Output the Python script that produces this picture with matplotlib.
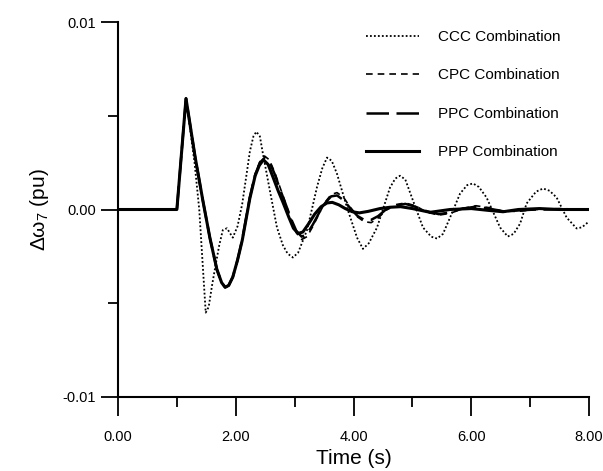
import numpy as np
import matplotlib
matplotlib.use("Agg")
import matplotlib.pyplot as plt
from matplotlib.ticker import MultipleLocator, FixedLocator

plt.rcParams['font.family'] = ['Liberation Sans', 'DejaVu Sans']
plt.rcParams['mathtext.fontset'] = 'custom'
plt.rcParams['mathtext.rm'] = 'Liberation Sans'

# PPP combination (solid)
t_ppp = [0, 1.00, 1.155, 1.31, 1.44, 1.56, 1.68, 1.76, 1.82, 1.88, 1.95, 2.03, 2.11, 2.24,
         2.33, 2.40, 2.47, 2.55, 2.63, 2.72, 2.80, 2.90, 2.98, 3.06, 3.14, 3.24, 3.34, 3.45,
         3.55, 3.64, 3.75, 3.86, 3.98, 4.10, 4.25, 4.45, 4.62, 4.80, 5.00, 5.30, 5.64, 6.00,
         6.30, 6.54, 6.80, 7.16, 7.50, 8.00]
y_ppp = [0, 0, 5.92, 2.8, 0.5, -1.5, -3.2, -3.9, -4.15, -4.05, -3.6, -2.7, -1.65, 0.6,
         1.8, 2.35, 2.65, 2.4, 1.75, 1.0, 0.4, -0.4, -1.0, -1.28, -1.2, -0.75, -0.25, 0.15,
         0.35, 0.38, 0.25, 0.05, -0.12, -0.18, -0.1, 0.05, 0.12, 0.15, 0.05, -0.15, 0.0, 0.05,
         -0.05, -0.12, 0.0, 0.05, 0.0, 0.0]

# CCC combination (dotted)
t_ccc = [0, 1.00, 1.155, 1.30, 1.38, 1.44, 1.49, 1.54, 1.60, 1.65, 1.72, 1.78, 1.85, 1.95,
         2.03, 2.11, 2.18, 2.24, 2.30, 2.35, 2.41, 2.46, 2.58, 2.70, 2.80, 2.88, 2.97, 3.06,
         3.21, 3.30, 3.38, 3.47, 3.55, 3.63, 3.72, 3.89, 4.06, 4.16, 4.26, 4.40, 4.62, 4.71,
         4.79, 4.88, 5.01, 5.18, 5.32, 5.42, 5.52, 5.64, 5.81, 5.93, 6.03, 6.13, 6.26, 6.49,
         6.62, 6.72, 6.83, 6.94, 7.10, 7.22, 7.33, 7.45, 7.62, 7.79, 7.88, 7.98]
y_ccc = [0, 0, 5.92, 2.5, 0.0, -3.0, -5.5, -5.2, -4.0, -3.1, -1.9, -1.1, -1.0, -1.5,
         -0.9, 0.3, 1.8, 3.1, 3.9, 4.15, 3.9, 3.0, 1.0, -0.96, -1.9, -2.35, -2.56, -2.3,
         -1.1, 0.1, 1.2, 2.2, 2.77, 2.6, 1.9, 0.1, -1.5, -2.1, -1.8, -0.96, 1.17, 1.65,
         1.8, 1.6, 0.48, -0.96, -1.45, -1.55, -1.3, -0.43, 0.85, 1.3, 1.39, 1.2, 0.64, -0.96,
         -1.44, -1.3, -0.75, 0.32, 0.95, 1.12, 1.0, 0.64, -0.43, -1.01, -0.95, -0.69]

# CPC (dashed) and PPC (long dashed)
t_pc = [0, 1.00, 1.155, 1.31, 1.44, 1.56, 1.68, 1.76, 1.82, 1.88, 1.95, 2.03, 2.11, 2.24,
        2.33, 2.41, 2.49, 2.57, 2.66, 2.75, 2.84, 2.94, 3.03, 3.12, 3.21, 3.31, 3.42, 3.52,
        3.62, 3.72, 3.83, 3.95, 4.07, 4.18, 4.30, 4.42, 4.55, 4.70, 4.88, 5.05, 5.25, 5.45,
        5.65, 5.85, 6.08, 6.30, 6.55, 6.80, 7.10, 7.50, 8.00]
y_cpc = [0, 0, 5.92, 2.8, 0.5, -1.5, -3.2, -3.9, -4.15, -4.05, -3.6, -2.7, -1.6, 0.7,
         1.9, 2.55, 2.85, 2.65, 2.0, 1.2, 0.4, -0.55, -1.25, -1.6, -1.45, -0.9, -0.2, 0.4,
         0.8, 0.9, 0.65, 0.1, -0.4, -0.65, -0.7, -0.45, -0.05, 0.25, 0.35, 0.2, -0.15, -0.3,
         -0.2, 0.05, 0.2, 0.1, -0.1, -0.1, 0.0, 0.05, 0.0]
y_ppc = [0, 0, 5.92, 2.8, 0.5, -1.5, -3.2, -3.9, -4.15, -4.05, -3.6, -2.7, -1.6, 0.65,
         1.85, 2.5, 2.75, 2.55, 1.9, 1.1, 0.35, -0.5, -1.15, -1.45, -1.3, -0.8, -0.15, 0.35,
         0.7, 0.75, 0.5, 0.05, -0.35, -0.55, -0.55, -0.35, 0.0, 0.2, 0.3, 0.15, -0.1, -0.25,
         -0.15, 0.05, 0.15, 0.05, -0.1, -0.05, 0.0, 0.0, 0.0]

fig = plt.figure(figsize=(6.03, 4.71), dpi=100)
ax = fig.add_axes([118/603, 1-397/471, (589-118)/603, (397-22)/471])

s = 1e-3
ax.plot(t_ccc, np.array(y_ccc)*s, color='black', lw=1.3, ls=(0, (1, 1.2)), label='CCC Combination')
ax.plot(t_pc, np.array(y_cpc)*s, color='black', lw=1.2, ls=(0, (4, 3)), label='CPC Combination')
ax.plot(t_pc, np.array(y_ppc)*s, color='black', lw=1.8, ls=(0, (9, 3)), label='PPC Combination')
ax.plot(t_ppp, np.array(y_ppp)*s, color='black', lw=2.2, label='PPP Combination')

ax.set_xlim(0, 8)
ax.set_ylim(-0.01, 0.01)
ax.spines['top'].set_visible(False)
ax.spines['right'].set_visible(False)
for sp in ['left', 'bottom']:
    ax.spines[sp].set_linewidth(1.5)

ax.set_xticks([0, 2, 4, 6, 8])
ax.set_xticklabels(['0.00', '2.00', '4.00', '6.00', '8.00'])
ax.xaxis.set_minor_locator(FixedLocator([1, 3, 5, 7]))
ax.set_yticks([-0.01, 0.0, 0.01])
ax.set_yticklabels(['-0.01', '0.00', '0.01'])
ax.yaxis.set_minor_locator(FixedLocator([-0.005, 0.005]))
ax.tick_params(axis='x', which='major', length=14, width=1.3, labelsize=10.5, pad=10)
ax.tick_params(axis='x', which='minor', length=7, width=1.3)
ax.tick_params(axis='y', which='major', length=12, width=1.3, labelsize=10.5, pad=4)
ax.tick_params(axis='y', which='minor', length=7, width=1.3)

ax.set_xlabel('Time (s)', fontsize=15, labelpad=3)
ax.set_ylabel('Δω$_7$ (pu)', fontsize=15, labelpad=8)

ax.legend(loc='upper left', bbox_to_anchor=(366/603, 1-30/471), bbox_transform=fig.transFigure,
          frameon=False, fontsize=11, handlelength=3.5, handletextpad=1.2, labelspacing=1.6,
          borderpad=0, borderaxespad=0)

fig.savefig('out.png', dpi=100)
